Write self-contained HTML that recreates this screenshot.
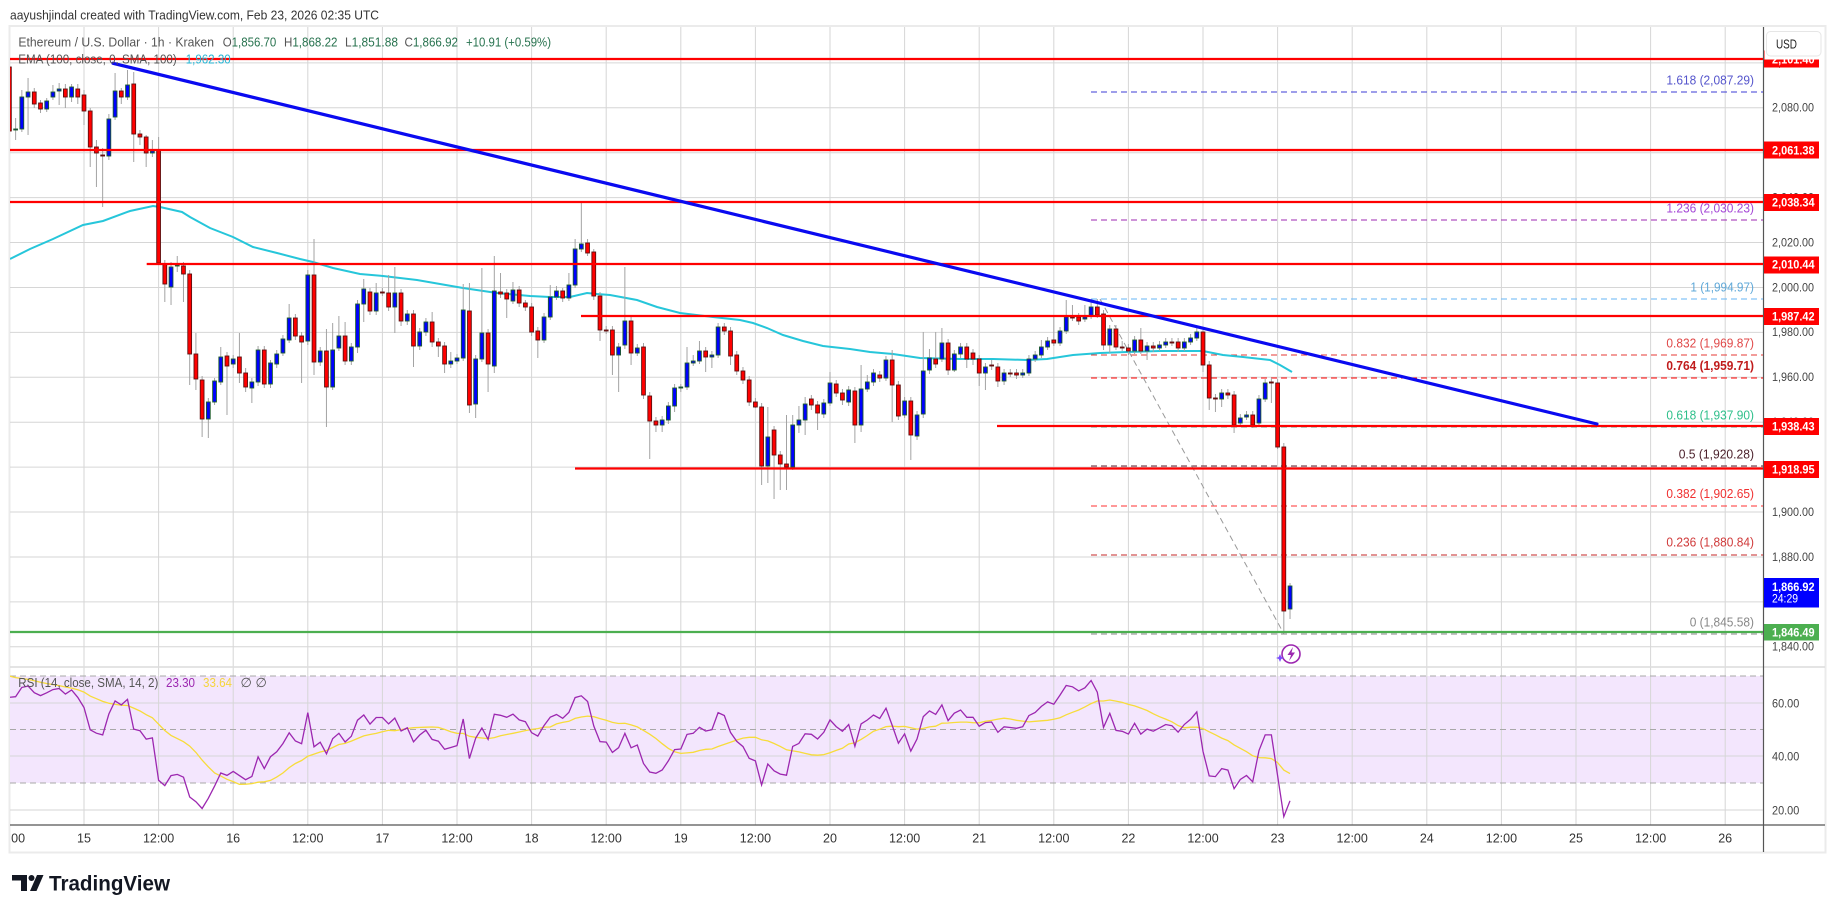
<!DOCTYPE html>
<html><head><meta charset="utf-8"><style>
html,body{margin:0;padding:0;background:#fff;width:1835px;height:913px;overflow:hidden}
svg{display:block}
text{font-family:"Liberation Sans",Arial,sans-serif}
</style></head><body>
<svg id="c" width="1835" height="913" viewBox="0 0 1835 913" xmlns="http://www.w3.org/2000/svg">
<defs>
<clipPath id="pp"><rect x="10" y="27" width="1753.5" height="640"/></clipPath>
<clipPath id="rp"><rect x="10" y="667" width="1753.5" height="158"/></clipPath>
<clipPath id="tp"><rect x="10.5" y="825" width="1753" height="27"/></clipPath>
</defs>
<rect x="0" y="0" width="1835" height="913" fill="#fff"/>
<!-- header -->
<text x="10" y="19.5" font-size="13" fill="#333" textLength="369" lengthAdjust="spacingAndGlyphs">aayushjindal created with TradingView.com, Feb 23, 2026 02:35 UTC</text>
<!-- frame -->
<rect x="9.5" y="26" width="1816" height="826.5" fill="#fff" stroke="#ebebeb" stroke-width="2"/>
<!-- RSI band -->
<rect x="10" y="676" width="1753.5" height="107" fill="#f3e6fd"/>
<!-- grid -->
<g stroke="#d6d6d6" stroke-width="1">
<line x1="84" y1="27" x2="84" y2="825"/><line x1="158.6" y1="27" x2="158.6" y2="825"/><line x1="233.2" y1="27" x2="233.2" y2="825"/><line x1="307.8" y1="27" x2="307.8" y2="825"/><line x1="382.4" y1="27" x2="382.4" y2="825"/><line x1="457" y1="27" x2="457" y2="825"/><line x1="531.6" y1="27" x2="531.6" y2="825"/><line x1="606.2" y1="27" x2="606.2" y2="825"/><line x1="680.8" y1="27" x2="680.8" y2="825"/><line x1="755.4" y1="27" x2="755.4" y2="825"/><line x1="830" y1="27" x2="830" y2="825"/><line x1="904.6" y1="27" x2="904.6" y2="825"/><line x1="979.2" y1="27" x2="979.2" y2="825"/><line x1="1053.8" y1="27" x2="1053.8" y2="825"/><line x1="1128.4" y1="27" x2="1128.4" y2="825"/><line x1="1203" y1="27" x2="1203" y2="825"/><line x1="1277.6" y1="27" x2="1277.6" y2="825"/><line x1="1352.2" y1="27" x2="1352.2" y2="825"/><line x1="1426.8" y1="27" x2="1426.8" y2="825"/><line x1="1501.4" y1="27" x2="1501.4" y2="825"/><line x1="1576" y1="27" x2="1576" y2="825"/><line x1="1650.6" y1="27" x2="1650.6" y2="825"/><line x1="1725.2" y1="27" x2="1725.2" y2="825"/>
<line x1="10" y1="62.9" x2="1763" y2="62.9"/><line x1="10" y1="107.8" x2="1763" y2="107.8"/><line x1="10" y1="152.7" x2="1763" y2="152.7"/><line x1="10" y1="197.6" x2="1763" y2="197.6"/><line x1="10" y1="242.5" x2="1763" y2="242.5"/><line x1="10" y1="287.5" x2="1763" y2="287.5"/><line x1="10" y1="332.4" x2="1763" y2="332.4"/><line x1="10" y1="377.3" x2="1763" y2="377.3"/><line x1="10" y1="422.2" x2="1763" y2="422.2"/><line x1="10" y1="467.1" x2="1763" y2="467.1"/><line x1="10" y1="512" x2="1763" y2="512"/><line x1="10" y1="557" x2="1763" y2="557"/><line x1="10" y1="601.9" x2="1763" y2="601.9"/><line x1="10" y1="646.8" x2="1763" y2="646.8"/>
<line x1="10" y1="703" x2="1763" y2="703"/><line x1="10" y1="756" x2="1763" y2="756"/><line x1="10" y1="810" x2="1763" y2="810"/>
</g>
<g stroke="#a8a8a8" stroke-width="1" stroke-dasharray="6,4">
<line x1="10" y1="676" x2="1763" y2="676"/><line x1="10" y1="729.5" x2="1763" y2="729.5"/><line x1="10" y1="783" x2="1763" y2="783"/>
</g>
<!-- pane separator and axes -->
<line x1="10" y1="667" x2="1825" y2="667" stroke="#dcdcdc" stroke-width="1.5"/>
<line x1="10" y1="825" x2="1825" y2="825" stroke="#555" stroke-width="1.2"/>
<line x1="1763.5" y1="27" x2="1763.5" y2="852" stroke="#555" stroke-width="1.2"/>

<!-- price pane content -->
<g clip-path="url(#pp)">
<!-- fib lines -->
<g stroke-width="1" stroke-dasharray="6,4" fill="none">
<line x1="1091" y1="92" x2="1763" y2="92" stroke="#3c3cd6"/>
<line x1="1091" y1="220" x2="1763" y2="220" stroke="#9c27b0"/>
<line x1="1091" y1="299" x2="1763" y2="299" stroke="#64b5f6"/>
<line x1="1091" y1="355" x2="1763" y2="355" stroke="#e53935"/>
<line x1="1091" y1="378" x2="1763" y2="378" stroke="#ff0000"/>
<line x1="1091" y1="427" x2="1763" y2="427" stroke="#4caf8f"/>
<line x1="1091" y1="466" x2="1763" y2="466" stroke="#5d1f2f"/>
<line x1="1091" y1="506" x2="1763" y2="506" stroke="#ff3030"/>
<line x1="1091" y1="555" x2="1763" y2="555" stroke="#c62828"/>
<line x1="1091" y1="634" x2="1763" y2="634" stroke="#888"/>
<line x1="1100" y1="299" x2="1284" y2="634" stroke="#999"/>
</g>
<!-- EMA -->
<polyline fill="none" stroke="#26c6da" stroke-width="2" points="10,259 30,249 53,239 83,225 103,221 130,211 153,206 160,207 182,212 190,217 210,228 233,237 253,247 277,253 300,259 313,262 333,268 360,274 383,276 417,280 440,284 463,288 497,293 530,296 550,297 570,297 587,293 597,294 610,295 637,300 657,307 680,313 713,317 740,320 753,323 767,328 783,335 803,341 823,346 850,349 870,352 893,354 920,358 960,359 993,359 1027,360 1047,359 1073,355 1100,353 1127,352 1160,351 1203,351 1223,355 1243,357 1270,360 1280,365 1292,372"/>
<g id="candles"></g>
<!-- horizontal levels -->
<g stroke="#ff0000" stroke-width="2.2">
<line x1="10" y1="59" x2="1763" y2="59"/>
<line x1="10" y1="150" x2="1763" y2="150"/>
<line x1="10" y1="202" x2="1763" y2="202"/>
<line x1="146.7" y1="264" x2="1763" y2="264"/>
<line x1="581" y1="316" x2="1763" y2="316"/>
<line x1="997" y1="426" x2="1763" y2="426"/>
<line x1="575" y1="468.5" x2="1763" y2="468.5"/>
</g>
<line x1="10" y1="632" x2="1763" y2="632" stroke="#4caf50" stroke-width="2.2"/>
<!-- trend line -->
<line x1="113" y1="63.3" x2="1597" y2="424" stroke="#0a0af0" stroke-width="3.2" stroke-linecap="round"/>
<!-- icon -->
<circle cx="1291" cy="654" r="9" fill="#fff" stroke="#9c27b0" stroke-width="1.6"/>
<path d="M1293 647 L1287.5 655 H1291 L1289 661 L1295 652.5 H1291.5 Z" fill="#9c27b0"/>
<path d="M1280 654 L1281.3 657 L1284 658 L1281.3 659 L1280 662 L1278.7 659 L1276 658 L1278.7 657 Z" fill="#7c4dff"/>
</g>

<!-- fib labels -->
<g font-size="12.5" text-anchor="end">
<text x="1754" y="84.5" fill="#5555cc" textLength="87.6" lengthAdjust="spacingAndGlyphs">1.618 (2,087.29)</text>
<text x="1754" y="212.5" fill="#a447d6" textLength="87.6" lengthAdjust="spacingAndGlyphs">1.236 (2,030.23)</text>
<text x="1754" y="291.5" fill="#5fa8d8" textLength="63.6" lengthAdjust="spacingAndGlyphs">1 (1,994.97)</text>
<text x="1754" y="347.5" fill="#e04848" textLength="87.6" lengthAdjust="spacingAndGlyphs">0.832 (1,969.87)</text>
<text x="1754" y="370" fill="#c01c1c" font-weight="bold" textLength="87.6" lengthAdjust="spacingAndGlyphs">0.764 (1,959.71)</text>
<text x="1754" y="419.5" fill="#2dbf8a" textLength="87.6" lengthAdjust="spacingAndGlyphs">0.618 (1,937.90)</text>
<text x="1754" y="458.5" fill="#4a1f2a" textLength="75.3" lengthAdjust="spacingAndGlyphs">0.5 (1,920.28)</text>
<text x="1754" y="498" fill="#f03030" textLength="87.6" lengthAdjust="spacingAndGlyphs">0.382 (1,902.65)</text>
<text x="1754" y="546.5" fill="#d03a3a" textLength="87.6" lengthAdjust="spacingAndGlyphs">0.236 (1,880.84)</text>
<text x="1754" y="626.5" fill="#888" textLength="64.3" lengthAdjust="spacingAndGlyphs">0 (1,845.58)</text>
</g>

<!-- RSI pane -->
<g clip-path="url(#rp)">
<polyline id="rsisma" fill="none" stroke="#f7dc3a" stroke-width="1.3" points=""/>
<polyline id="rsi" fill="none" stroke="#9c27b0" stroke-width="1.3" points=""/>
</g>

<!-- legends -->
<text x="18.4" y="46.5" font-size="13" fill="#555" textLength="195.6" lengthAdjust="spacingAndGlyphs">Ethereum / U.S. Dollar · 1h · Kraken</text>
<g font-size="13" fill="#27724e">
<text x="222.7" y="46.5" textLength="53.6" lengthAdjust="spacingAndGlyphs"><tspan fill="#555">O</tspan>1,856.70</text>
<text x="284" y="46.5" textLength="53.5" lengthAdjust="spacingAndGlyphs"><tspan fill="#555">H</tspan>1,868.22</text>
<text x="345" y="46.5" textLength="53" lengthAdjust="spacingAndGlyphs"><tspan fill="#555">L</tspan>1,851.88</text>
<text x="404.5" y="46.5" textLength="53.5" lengthAdjust="spacingAndGlyphs"><tspan fill="#555">C</tspan>1,866.92</text>
<text x="466" y="46.5" textLength="85" lengthAdjust="spacingAndGlyphs">+10.91 (+0.59%)</text>
</g>
<text x="18.3" y="63.5" font-size="13" fill="#555" textLength="158.4" lengthAdjust="spacingAndGlyphs">EMA (100, close, 0, SMA, 100)</text>
<text x="185.7" y="63.5" font-size="13" fill="#26b5d4" textLength="45" lengthAdjust="spacingAndGlyphs">1,962.30</text>
<text x="18.3" y="687" font-size="13" fill="#555" textLength="140" lengthAdjust="spacingAndGlyphs">RSI (14, close, SMA, 14, 2)</text>
<text x="166" y="687" font-size="13" fill="#9c27b0" textLength="29" lengthAdjust="spacingAndGlyphs">23.30</text>
<text x="203" y="687" font-size="13" fill="#f5d53c" textLength="29" lengthAdjust="spacingAndGlyphs">33.64</text>
<text x="240.5" y="687" font-size="13" fill="#555">∅</text>
<text x="255.5" y="687" font-size="13" fill="#555">∅</text>

<!-- time axis labels -->
<g font-size="12.5" fill="#333" text-anchor="middle" clip-path="url(#tp)">
<text x="9.4" y="842.5">12:00</text>
<text x="84" y="842.5">15</text><text x="158.6" y="842.5">12:00</text>
<text x="233.2" y="842.5">16</text><text x="307.8" y="842.5">12:00</text>
<text x="382.4" y="842.5">17</text><text x="457" y="842.5">12:00</text>
<text x="531.6" y="842.5">18</text><text x="606.2" y="842.5">12:00</text>
<text x="680.8" y="842.5">19</text><text x="755.4" y="842.5">12:00</text>
<text x="830" y="842.5">20</text><text x="904.6" y="842.5">12:00</text>
<text x="979.2" y="842.5">21</text><text x="1053.8" y="842.5">12:00</text>
<text x="1128.4" y="842.5">22</text><text x="1203" y="842.5">12:00</text>
<text x="1277.6" y="842.5">23</text><text x="1352.2" y="842.5">12:00</text>
<text x="1426.8" y="842.5">24</text><text x="1501.4" y="842.5">12:00</text>
<text x="1576" y="842.5">25</text><text x="1650.6" y="842.5">12:00</text>
<text x="1725.2" y="842.5">26</text>
</g>

<!-- price axis tick labels -->
<g font-size="12" fill="#444">
<text x="1772" y="66.5" textLength="42" lengthAdjust="spacingAndGlyphs">2,100.00</text>
<text x="1772" y="111.5" textLength="42" lengthAdjust="spacingAndGlyphs">2,080.00</text>
<text x="1772" y="156.5" textLength="42" lengthAdjust="spacingAndGlyphs">2,060.00</text>
<text x="1772" y="201.3" textLength="42" lengthAdjust="spacingAndGlyphs">2,040.00</text>
<text x="1772" y="246.3" textLength="42" lengthAdjust="spacingAndGlyphs">2,020.00</text>
<text x="1772" y="291.3" textLength="42" lengthAdjust="spacingAndGlyphs">2,000.00</text>
<text x="1772" y="336.2" textLength="42" lengthAdjust="spacingAndGlyphs">1,980.00</text>
<text x="1772" y="381.1" textLength="42" lengthAdjust="spacingAndGlyphs">1,960.00</text>
<text x="1772" y="426" textLength="42" lengthAdjust="spacingAndGlyphs">1,940.00</text>
<text x="1772" y="471" textLength="42" lengthAdjust="spacingAndGlyphs">1,920.00</text>
<text x="1772" y="515.8" textLength="42" lengthAdjust="spacingAndGlyphs">1,900.00</text>
<text x="1772" y="560.8" textLength="42" lengthAdjust="spacingAndGlyphs">1,880.00</text>
<text x="1772" y="605.7" textLength="42" lengthAdjust="spacingAndGlyphs">1,860.00</text>
<text x="1772" y="650.6" textLength="42" lengthAdjust="spacingAndGlyphs">1,840.00</text>
<text x="1772" y="707.3" textLength="27.3" lengthAdjust="spacingAndGlyphs">60.00</text>
<text x="1772" y="760.3" textLength="27.3" lengthAdjust="spacingAndGlyphs">40.00</text>
<text x="1772" y="814.3" textLength="27.3" lengthAdjust="spacingAndGlyphs">20.00</text>
</g>

<!-- price axis boxes -->
<g font-size="12" font-weight="bold" fill="#fff">
<rect x="1764" y="50.5" width="55" height="17" fill="#ff0000"/>
<text x="1772" y="63.5" textLength="42.6" lengthAdjust="spacingAndGlyphs">2,101.40</text>
<rect x="1764" y="141.5" width="55" height="17" fill="#ff0000"/>
<text x="1772" y="154.5" textLength="42.6" lengthAdjust="spacingAndGlyphs">2,061.38</text>
<rect x="1764" y="194" width="55" height="17" fill="#ff0000"/>
<text x="1772" y="206.5" textLength="42.6" lengthAdjust="spacingAndGlyphs">2,038.34</text>
<rect x="1764" y="256.5" width="55" height="17" fill="#ff0000"/>
<text x="1772" y="268.5" textLength="42.6" lengthAdjust="spacingAndGlyphs">2,010.44</text>
<rect x="1764" y="308" width="55" height="17" fill="#ff0000"/>
<text x="1772" y="320.5" textLength="42.6" lengthAdjust="spacingAndGlyphs">1,987.42</text>
<rect x="1764" y="418" width="55" height="17" fill="#ff0000"/>
<text x="1772" y="430.5" textLength="42.6" lengthAdjust="spacingAndGlyphs">1,938.43</text>
<rect x="1764" y="461" width="55" height="17" fill="#ff0000"/>
<text x="1772" y="473.5" textLength="42.6" lengthAdjust="spacingAndGlyphs">1,918.95</text>
<rect x="1764" y="578" width="55" height="29.5" fill="#0000ff"/>
<text x="1772" y="591" textLength="42.6" lengthAdjust="spacingAndGlyphs">1,866.92</text>
<text x="1772" y="602.5" textLength="26" lengthAdjust="spacingAndGlyphs" font-weight="normal">24:29</text>
<rect x="1764" y="624" width="55" height="16.5" fill="#4caf50"/>
<text x="1772" y="636.5" textLength="42.6" lengthAdjust="spacingAndGlyphs">1,846.49</text>
</g>
<!-- USD -->
<rect x="1764.5" y="27.5" width="59.5" height="32" fill="#fff"/>
<rect x="1766.5" y="31.5" width="54.5" height="24.5" rx="4" fill="#fff" stroke="#e6e6e6" stroke-width="1"/>
<text x="1776" y="48.5" font-size="12.5" fill="#222" textLength="21" lengthAdjust="spacingAndGlyphs">USD</text>

<!-- logo -->
<path d="M12 875 H27 V891 H21 V880.5 H12 Z" fill="#131722"/>
<circle cx="31.5" cy="878" r="3" fill="#131722"/>
<path d="M37 875 H43.5 L36.5 891 H30 Z" fill="#131722"/>
<text x="49" y="890.5" font-size="21" font-weight="bold" fill="#131722" textLength="121" lengthAdjust="spacingAndGlyphs">TradingView</text>
</svg>
<script>
(function(){
var D=[[67,131,64,134],[130,129,118,140],[129,97,90,132],[97,92,78,135],[92,104,88,108],[103,109,100,113],[109,101,98,112],[97,92,85,100],[91,89,83,105],[89,97,84,108],
[97,87,84,102],[89,97,84,104],[95,111,90,125],[111,147,108,167],[147,153,140,187],[155,156,148,207],[156,119,114,160],[117,91,73,120],[91,97,88,104],[97,85,70,100],
[84,134,72,162],[134,137,130,145],[137,153,135,167],[153,151,140,157],[150,263,137,265],[264,284,260,302],[287,267,262,305],[266,265,256,272],[266,274,262,302],[274,354,270,385],
[354,379,333,390],[380,419,376,437],[419,402,398,438],[402,381,378,405],[382,357,347,385],[356,366,352,415],[364,359,355,368],[357,373,333,383],[373,387,368,392],[388,382,378,403],
[382,350,346,386],[350,384,346,388],[384,363,360,388],[364,354,350,368],[353,339,335,356],[340,318,304,343],[318,336,314,340],[336,342,332,383],[341,275,270,345],[275,362,239,375],
[362,351,347,366],[351,387,329,427],[387,350,323,390],[348,336,316,351],[336,361,322,365],[361,347,343,365],[347,304,300,353],[304,289,279,322],[292,311,288,315],[311,293,283,315],
[292,293,288,296],[293,307,275,311],[307,293,267,333],[293,321,289,326],[321,314,310,325],[314,346,310,367],[346,332,328,350],[332,322,318,336],[322,342,312,347],[342,346,338,357],
[346,364,342,373],[364,361,352,368],[361,358,354,364],[358,310,284,361],[311,405,283,413],[404,359,355,418],[359,333,268,362],[333,364,329,392],[366,291,256,373],[292,294,273,298],
[293,299,289,318],[301,290,282,304],[290,303,286,307],[303,307,300,311],[307,332,303,336],[331,340,327,358],[340,317,313,343],[317,297,285,320],[297,291,286,300],[291,298,288,302],
[298,285,273,301],[285,249,239,288],[249,244,203,252],[243,253,239,256],[252,296,249,300],[296,330,292,341],[330,331,326,334],[330,355,326,375],[355,347,343,392],[345,321,267,349],
[321,353,317,365],[353,348,344,356],[347,395,343,399],[396,421,392,459],[421,425,417,432],[425,420,416,432],[420,406,402,424],[406,388,384,412],[388,387,384,392],[387,363,347,390],
[363,361,355,366],[361,351,341,364],[351,357,347,372],[357,355,351,368],[355,327,323,358],[327,331,323,335],[331,356,327,365],[355,371,351,375],[371,380,367,384],[380,402,376,406],
[402,407,398,408],[407,466,403,485],[466,437,407,483],[430,455,426,499],[455,464,451,490],[464,467,415,490],[467,425,415,470],[425,420,406,433],[420,404,397,435],[399,405,395,410],
[405,413,401,430],[414,403,399,418],[403,383,372,406],[384,393,380,397],[393,400,389,405],[402,390,386,406],[391,425,387,443],[425,389,365,432],[389,382,375,392],[382,373,369,386],
[375,378,371,382],[378,360,356,381],[360,385,350,422],[385,416,381,420],[415,401,397,418],[401,435,397,460],[436,415,411,440],[414,371,332,418],[370,358,349,374],[359,364,332,368],
[359,343,328,362],[343,370,339,375],[370,354,350,372],[354,347,343,358],[347,359,343,368],[353,359,349,365],[359,373,355,386],[373,367,363,390],[365,366,360,370],[367,381,363,387],
[381,373,369,385],[373,374,369,377],[373,375,369,379],[375,373,369,378],[373,359,355,376],[359,355,351,362],[355,347,340,358],[347,341,337,350],[340,343,317,346],[343,331,327,346],
[331,317,300,334],[317,318,305,321],[317,321,313,325],[319,317,305,322],[316,307,299,319],[307,315,299,318],[314,345,310,350],[345,329,325,353],[329,347,325,350],[347,348,341,351],
[348,351,344,355],[351,340,336,354],[340,351,328,354],[351,346,342,360],[346,348,342,352],[348,345,341,351],[345,342,338,348],[342,343,338,346],[342,348,338,352],[348,342,338,351],
[342,338,334,345],[338,332,328,341],[332,365,328,372],[365,398,361,410],[398,399,394,412],[399,393,389,407],[393,395,389,399],[395,425,391,433],[423,418,414,426],[417,415,411,420],
[415,425,411,428],[423,399,395,426],[399,383,379,402],[382,383,378,403],[383,447,379,449],[447,611,443,633],[609,586,583,619]];
var NS="http://www.w3.org/2000/svg";
var g=document.getElementById("candles");
function X(i){return 9.4+6.2167*i;}
var wk=document.createElementNS(NS,"g");wk.setAttribute("stroke","#a3a3a3");wk.setAttribute("stroke-width","1");
var bd=document.createElementNS(NS,"g");
for(var i=0;i<D.length;i++){
  var d=D[i],x=X(i),o=d[0],c=d[1];
  var l=document.createElementNS(NS,"line");
  l.setAttribute("x1",x);l.setAttribute("x2",x);l.setAttribute("y1",d[2]);l.setAttribute("y2",d[3]);wk.appendChild(l);
  var up=c<o;if(c===o)up=true;
  var top=Math.min(o,c),h=Math.max(Math.abs(o-c),1);
  var r=document.createElementNS(NS,"rect");
  r.setAttribute("x",x-1.9);r.setAttribute("y",top);r.setAttribute("width",3.8);r.setAttribute("height",h);
  r.setAttribute("fill",up?"#0000ff":"#ff0000");r.setAttribute("stroke",up?"#1d5c2a":"#5c1010");r.setAttribute("stroke-width","0.9");
  bd.appendChild(r);
}
g.appendChild(wk);g.appendChild(bd);
// RSI
var k=1/2.2458,prev=67,ag=7.8,al=2.6,R=[];
for(var i=0;i<D.length;i++){var c=D[i][1];var ch=(prev-c)*k;prev=c;var gg=ch>0?ch:0,ll=ch<0?-ch:0;ag=(ag*13+gg)/14;al=(al*13+ll)/14;R.push(100-100/(1+ag/al));}
var H=[];for(var j=0;j<13;j++)H.push(70.5);H=H.concat(R);
var S=[];for(var i=0;i<R.length;i++){var s=0;for(var j=i;j<i+14;j++)s+=H[j];S.push(s/14);}
function Y(v){return 729.3-(v-50)*2.68;}
var p1=[],p2=[];
for(var i=0;i<R.length;i++){p1.push(X(i).toFixed(1)+","+Y(R[i]).toFixed(1));p2.push(X(i).toFixed(1)+","+Y(S[i]).toFixed(1));}
document.getElementById("rsi").setAttribute("points",p1.join(" "));
document.getElementById("rsisma").setAttribute("points",p2.join(" "));
})();
</script>
</body></html>
